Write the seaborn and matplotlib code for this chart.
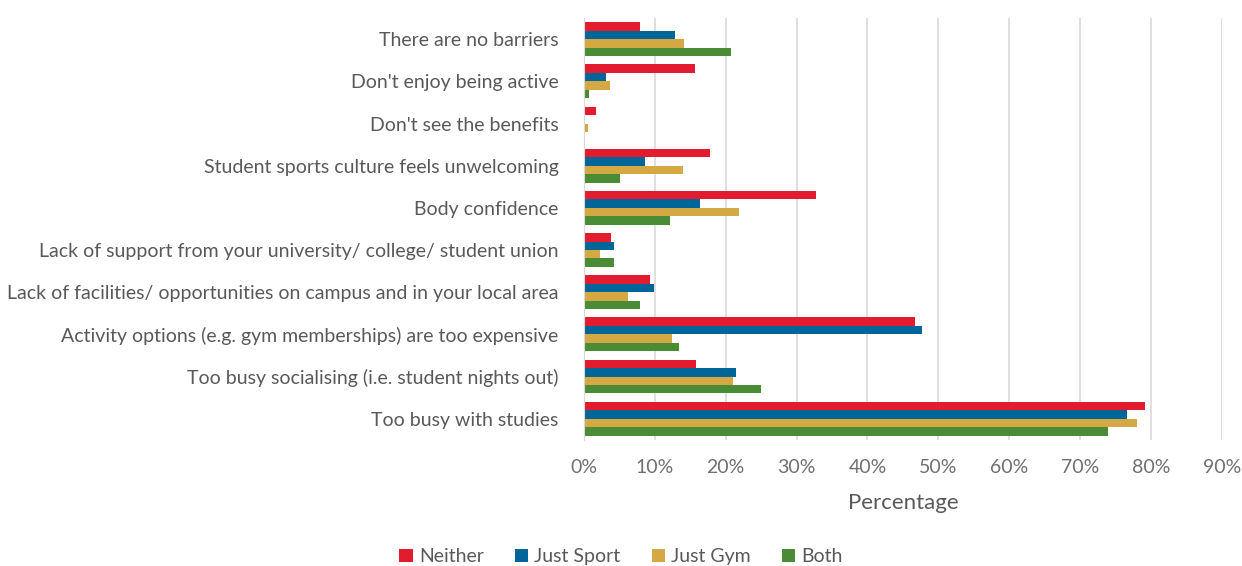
import matplotlib
matplotlib.use('Agg')
import matplotlib.pyplot as plt
import pandas as pd
import seaborn as sns

barriers = ['There are no barriers', "Don't enjoy being active", "Don't see the benefits",
            'Student sports culture feels unwelcoming', 'Body confidence',
            'Lack of support from your university/ college/ student union',
            'Lack of facilities/ opportunities on campus and in your local area',
            'Activity options (e.g. gym memberships) are too expensive',
            'Too busy socialising (i.e. student nights out)', 'Too busy with studies']
groups = ['Neither', 'Just Sport', 'Just Gym', 'Both']

neither = [8.0, 15.7, 1.7, 17.8, 32.7, 3.8, 9.4, 46.7, 15.8, 79.1]
just_sport = [12.8, 3.1, 0.2, 8.6, 16.4, 4.2, 9.9, 47.7, 21.4, 76.6]
just_gym = [14.1, 3.7, 0.6, 14.0, 21.9, 2.3, 6.3, 12.4, 21.0, 78.0]
both = [20.7, 0.8, 0.2, 5.1, 12.1, 4.2, 7.9, 13.5, 25.0, 73.9]

colors = ['#E31B2E', '#006699', '#D4A843', '#4A8B35']

rows = []
for g, vals in zip(groups, [neither, just_sport, just_gym, both]):
    for b, v in zip(barriers, vals):
        rows.append({'Barrier': b, 'Group': g, 'Percentage': v})
df = pd.DataFrame(rows)

sns.set_style('white')
plt.rcParams['font.family'] = ['Lato', 'DejaVu Sans']
txt = '#595959'

fig = plt.figure(figsize=(12.42, 5.66), dpi=100)
ax = fig.add_axes([0.470, 0.223, 0.514, 0.745])
sns.barplot(data=df, y='Barrier', x='Percentage', hue='Group', order=barriers,
            hue_order=groups, palette=colors, saturation=1, orient='h', width=0.8,
            linewidth=0, ax=ax)

ax.set_xlim(0, 90)
ticks = list(range(0, 91, 10))
ax.set_xticks(ticks)
ax.set_xticklabels([f'{t}%' for t in ticks], fontsize=14, color='#707070')
ax.tick_params(axis='y', labelsize=14, labelcolor=txt, length=0, pad=18)
ax.tick_params(axis='x', length=0, pad=14)
ax.grid(axis='x', color='#D9D9D9', linewidth=1.2)
ax.set_axisbelow(True)
for s in ['top', 'right', 'bottom']:
    ax.spines[s].set_visible(False)
ax.spines['left'].set_color('#D9D9D9')
ax.set_ylabel('')
ax.set_xlabel('Percentage', fontsize=16, color=txt, labelpad=12)

ax.legend(loc='center', bbox_to_anchor=(0.5, 0.016), bbox_transform=fig.transFigure,
          ncol=4, frameon=False, fontsize=14, labelcolor=txt, handlelength=0.7,
          handleheight=0.7, handletextpad=0.3, columnspacing=1.6)

fig.savefig('out.png', dpi=100)
